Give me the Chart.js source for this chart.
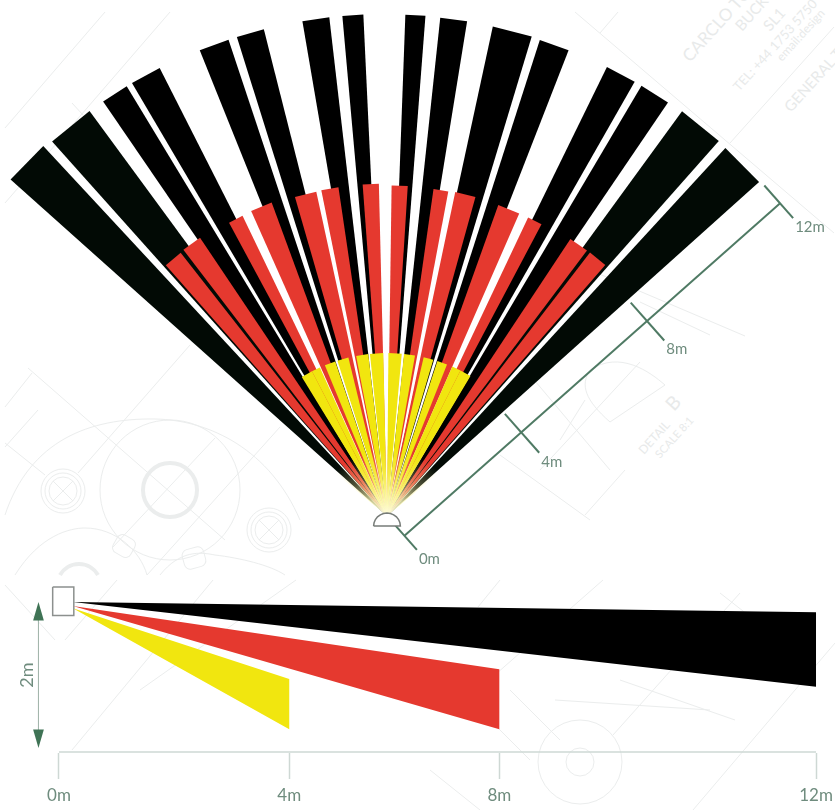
<!doctype html>
<html lang="en">
  <head>
    <meta charset="utf-8">
    <title>Sensor detection pattern</title>
    <style>
      * { margin: 0; padding: 0; }
      html, body { width: 835px; height: 810px; background: #fff; overflow: hidden; }
      #blueprint { position: absolute; left: 0; top: 0; }
      #blueprint * { fill: none; stroke: #ebeded; stroke-width: 1; }
      #blueprint text { fill: #e8eaea; stroke: none; font-family: Lato, sans-serif; }
      canvas { position: absolute; left: 0; }
      #fanChart { top: 0; }
      #sideChart { top: 575px; }
    </style>
  </head>
  <body>
    <svg id="blueprint" width="835" height="810">
      <!-- faint engineering drawing behind the charts -->
      <path d="M5 128L105 12M5 203L170 12M72 103L83 115M575 12L834 233M600 33L618 12M730 143L834 27"/>
      <path d="M5 407L32 373M5 447L38 410M28 368L225 540M5 443L45 475M78 473L190 345M147 575L280 427M215 438L113 547"/>
      <circle cx="170" cy="490" r="27" style="stroke-width:4"/>
      <circle cx="170" cy="490" r="70"/>
      <path d="M5 515C30 440 90 418 155 419C210 420 270 450 300 520M15 575C40 535 70 528 85 528C115 528 140 550 147 575M160 575C180 550 200 552 215 555C240 558 270 565 285 575"/>
      <circle cx="63" cy="491" r="22"/><circle cx="63" cy="491" r="18"/><circle cx="63" cy="491" r="14"/>
      <path d="M53 481L73 501M73 481L53 501"/>
      <circle cx="269" cy="530" r="22"/><circle cx="269" cy="530" r="18"/><circle cx="269" cy="530" r="14"/>
      <path d="M259 520L279 540M279 520L259 540"/>
      <path d="M60 575A22 22 0 0 1 98 575" style="stroke-width:4"/>
      <rect x="114" y="536" width="20" height="20" rx="6" transform="rotate(30 124 546)"/>
      <rect x="183" y="548" width="22" height="20" rx="6" transform="rotate(-15 194 558)"/>
      <path d="M540 470L640 362M500 455L590 520M590 270L745 336M640 302L710 335M530 375L610 470M585 400L560 440M585 515L625 470M590 370C620 350 650 372 665 385L610 422C585 400 580 385 590 370"/>
      <path d="M5 585L55 640M117 580L65 640M213 580L72 750M296 580L140 690M500 580L478 607M603 580L455 710M740 593L613 735M835 643L693 810M720 593L780 640M510 690L560 740M470 700L530 760M430 770L480 810M555 700L710 710M620 680L735 720"/>
      <circle cx="580" cy="762" r="42"/><circle cx="580" cy="762" r="14"/>
      <text x="0" y="0" font-size="17" transform="translate(690 63) rotate(-48)">CARCLO TO</text>
      <text x="0" y="0" font-size="15" transform="translate(742 32) rotate(-48)">BUCK</text>
      <text x="0" y="0" font-size="15" transform="translate(770 32) rotate(-48)">SL1</text>
      <text x="0" y="0" font-size="13" transform="translate(739 92) rotate(-48)">TEL: +44 1753 5750</text>
      <text x="0" y="0" font-size="12" transform="translate(782 62) rotate(-48)">email:design</text>
      <text x="0" y="0" font-size="15" transform="translate(791 113) rotate(-48)">GENERAL TO</text>
      <text x="0" y="0" font-size="12" transform="translate(644 455) rotate(-48)">DETAIL</text>
      <text x="0" y="0" font-size="19" transform="translate(674 412) rotate(-48)">B</text>
      <text x="0" y="0" font-size="11" transform="translate(660 459) rotate(-48)">SCALE 8:1</text>
    </svg>
    <canvas id="fanChart" width="835" height="575"></canvas>
    <canvas id="sideChart" width="835" height="235"></canvas>
    <script src="https://cdn.jsdelivr.net/npm/chart.js"></script>
    <script>
// top view: beam edges in degrees from straight ahead, reach in metres
const blackFrom = [-48.2, -41.8, -34.4, -30.5, -21.9, -17.4, -9.7, -5.1, 2.1, 6.1, 12.2, 17.8, 26.1, 30.6, 36.1, 42.6];
const blackTo = [-42.9, -36.3, -31.2, -26.9, -18.4, -14.2, -6.6, -2.7, 4.4, 9.2, 16.8, 21.3, 29.7, 34.2, 41.5, 48.1];
const blackReach = [12.08, 12.02, 12.02, 12.02, 12.01, 12.01, 12.01, 12.01, 12.0, 11.99, 11.98, 11.96, 11.96, 11.96, 11.98, 11.96];
const redFrom = [-41.4, -37.4, -28.3, -24.0, -16.1, -11.4, -4.2, 0.8, 8.1, 11.9, 19.7, 25.3, 33.5, 37.6];
const redTo = [-38.1, -33.9, -25.7, -20.2, -12.3, -8.4, -1.4, 3.6, 10.7, 15.5, 23.6, 27.9, 37.0, 41.0];
const redReach = [8.0, 8.02, 7.97, 7.99, 7.94, 7.95, 7.95, 7.91, 7.9, 7.92, 7.9, 7.9, 7.95, 7.96];
const yellowFrom = [-31.5, -27.4, -22.4, -17.7, -10.9, -6.0, 0.5, 6.0, 13.0, 18.0, 23.6, 26.8];
const yellowTo = [-27.4, -24.3, -18.5, -13.7, -6.6, -1.3, 5.2, 9.9, 16.5, 21.6, 26.8, 30.8];
const yellowReach = 3.9;

// top view: dimension line ticks
const dimLabels = ['0m', '4m', '8m', '12m'];
const dimStops = [0, 3.73, 7.75, 12];
const dimInner = [0.33, 0.59, 0.59, 0.57];
const dimOuter = [0.45, 0.65, 0.62, 0.47];
const dimAngle = 48.5;
const dimOffset = 0.63;

// side view: x is along the floor, y is height in metres
const sideLabels = ['0m', '4m', '8m', '12m'];
const sideStops = [0, 3.65, 6.98, 12];
const sideStartX = 0.22;
const blackSide = { start: 2.0, end: 12, top: 1.86, bottom: 0.84 };
const redSide = { start: 1.945, end: 6.98, top: 1.08, bottom: 0.256 };
const yellowSide = { start: 1.913, end: 3.65, top: 0.945, bottom: 0.256 };

const BLACK = '#000000';
const DARK = '#020a05';
const RED = '#e5392f';
const YELLOW = '#f1e60f';
const GREEN = '#4f7a64';
const AXIS = '#ced8d4';
const TEXT = '#6f8c7e';
const FONT = 'Lato, sans-serif';

const fanX = { min: -9.258, max: 10.718 };
const fanY = { min: -1.411, max: 12.344 };

const rad = d => d * Math.PI / 180;

function polar(deg, r) {
    return { x: r * Math.sin(rad(deg)), y: r * Math.cos(rad(deg)) };
}

function shape(points, color, line) {
    return {
        data: points,
        showLine: true,
        fill: 'shape',
        backgroundColor: color,
        borderColor: line || 'transparent',
        borderWidth: line ? 1.5 : 0,
        pointRadius: 0,
        tension: 0
    };
}

function stroke(points, color, width) {
    return {
        data: points,
        showLine: true,
        fill: false,
        borderColor: color,
        borderWidth: width,
        pointRadius: 0,
        tension: 0
    };
}

function wedges(from, to, reach, color) {
    return from.map((a, i) => {
        const c = typeof color === 'function' ? color(i) : color;
        const r = Array.isArray(reach) ? reach[i] : reach;
        return shape([{ x: 0, y: 0 }, polar(a, r), polar(to[i], r)], c);
    });
}

// dimension line runs parallel to the right edge of the fan
const dimAlong = { x: Math.sin(rad(dimAngle)), y: Math.cos(rad(dimAngle)) };
const dimAcross = { x: Math.cos(rad(dimAngle)), y: -Math.sin(rad(dimAngle)) };

function dimPoint(along, across) {
    return {
        x: along * dimAlong.x + across * dimAcross.x,
        y: along * dimAlong.y + across * dimAcross.y
    };
}

const dome = [];
for (let a = -90; a <= 90; a += 15) {
    dome.push({ x: 0.32 * Math.sin(rad(a)), y: -0.24 + 0.31 * Math.cos(rad(a)) });
}
dome.push(dome[0]);

// the beams wash out to pale yellow where they leave the sensor
const fanCanvas = document.getElementById('fanChart');
const apexX = (0 - fanX.min) / (fanX.max - fanX.min) * fanCanvas.width;
const apexY = fanY.max / (fanY.max - fanY.min) * fanCanvas.height;
const glow = fanCanvas.getContext('2d').createRadialGradient(apexX, apexY, 0, apexX, apexY, 68);
glow.addColorStop(0, 'rgba(255,255,225,1)');
glow.addColorStop(0.3, 'rgba(255,252,190,0.8)');
glow.addColorStop(0.65, 'rgba(255,245,170,0.3)');
glow.addColorStop(1, 'rgba(255,245,170,0)');

// first dataset is painted last, so the top layer goes first
const fanDatasets = [
    shape(dome, '#ffffff', '#777c78'),
    shape([{ x: 0, y: 0 }, polar(-50, 2.2), polar(-25, 2.2), polar(0, 2.2), polar(25, 2.2), polar(50, 2.2)], glow),
    ...dimStops.map((s, i) => stroke([dimPoint(s, dimOffset - dimInner[i]), dimPoint(s, dimOffset + dimOuter[i])], GREEN, 2)),
    stroke([dimPoint(0, dimOffset), dimPoint(12, dimOffset)], GREEN, 2),
    ...wedges(yellowFrom, yellowTo, yellowReach, YELLOW),
    ...wedges(redFrom, redTo, redReach, RED),
    ...wedges(blackFrom, blackTo, blackReach, i => (i < 2 || i > 13 ? DARK : BLACK))
];

const fanLabelPlugin = {
    id: 'fanLabels',
    afterDraw(chart) {
        const { ctx, scales } = chart;
        ctx.save();
        ctx.font = '15px ' + FONT;
        ctx.fillStyle = TEXT;
        ctx.textAlign = 'left';
        ctx.textBaseline = 'middle';
        dimLabels.forEach((label, i) => {
            const p = dimPoint(dimStops[i], dimOffset + dimOuter[i]);
            ctx.fillText(label, scales.x.getPixelForValue(p.x) + 2, scales.y.getPixelForValue(p.y) + 9);
        });
        ctx.restore();
    }
};

new Chart(fanCanvas, {
    type: 'scatter',
    data: { datasets: fanDatasets },
    options: {
        responsive: false,
        animation: false,
        events: [],
        plugins: { legend: { display: false }, tooltip: { enabled: false } },
        scales: {
            x: { type: 'linear', display: false, min: fanX.min, max: fanX.max },
            y: { type: 'linear', display: false, min: fanY.min, max: fanY.max }
        }
    },
    plugins: [fanLabelPlugin]
});

function beam(b, color) {
    return shape([{ x: sideStartX, y: b.start }, { x: b.end, y: b.top }, { x: b.end, y: b.bottom }], color);
}

const sideDatasets = [
    shape([{ x: -0.1, y: 2.205 }, { x: 0.235, y: 2.205 }, { x: 0.235, y: 1.815 }, { x: -0.1, y: 1.815 }, { x: -0.1, y: 2.205 }], '#ffffff', '#8c908e'),
    shape([{ x: -0.325, y: 2 }, { x: -0.41, y: 1.745 }, { x: -0.24, y: 1.745 }], '#3f7355'),
    shape([{ x: -0.325, y: 0 }, { x: -0.41, y: 0.255 }, { x: -0.24, y: 0.255 }], '#3f7355'),
    stroke([{ x: -0.325, y: 1.8 }, { x: -0.325, y: 0.2 }], '#a3b6ac', 1),
    stroke([{ x: 0, y: -0.055 }, { x: 12, y: -0.055 }], AXIS, 1.5),
    beam(yellowSide, YELLOW),
    beam(redSide, RED),
    beam(blackSide, BLACK)
];

const sideLabelPlugin = {
    id: 'sideLabel',
    afterDraw(chart) {
        const { ctx, scales } = chart;
        ctx.save();
        ctx.translate(scales.x.getPixelForValue(-0.5), scales.y.getPixelForValue(1));
        ctx.rotate(-Math.PI / 2);
        ctx.font = '18px ' + FONT;
        ctx.fillStyle = TEXT;
        ctx.textAlign = 'center';
        ctx.textBaseline = 'middle';
        ctx.fillText('2m', 0, 0);
        ctx.restore();
    }
};

new Chart(document.getElementById('sideChart'), {
    type: 'scatter',
    data: { datasets: sideDatasets },
    options: {
        responsive: false,
        animation: false,
        events: [],
        plugins: { legend: { display: false }, tooltip: { enabled: false } },
        scales: {
            x: {
                type: 'linear',
                min: -0.935,
                max: 12.301,
                afterBuildTicks: scale => {
                    scale.ticks = sideStops.map(v => ({ value: v }));
                },
                afterFit: scale => {
                    scale.height = 57;
                    scale.paddingLeft = 0;
                    scale.paddingRight = 0;
                },
                border: { display: false },
                grid: { drawOnChartArea: false, tickLength: 26, tickColor: AXIS, tickWidth: 1.5 },
                ticks: {
                    autoSkip: false,
                    maxRotation: 0,
                    padding: 6,
                    color: TEXT,
                    font: { family: FONT, size: 17 },
                    callback: (value, index) => sideLabels[index]
                }
            },
            y: { type: 'linear', display: false, min: -0.0685, max: 2.37 }
        }
    },
    plugins: [sideLabelPlugin]
});
    </script>
  </body>
</html>
